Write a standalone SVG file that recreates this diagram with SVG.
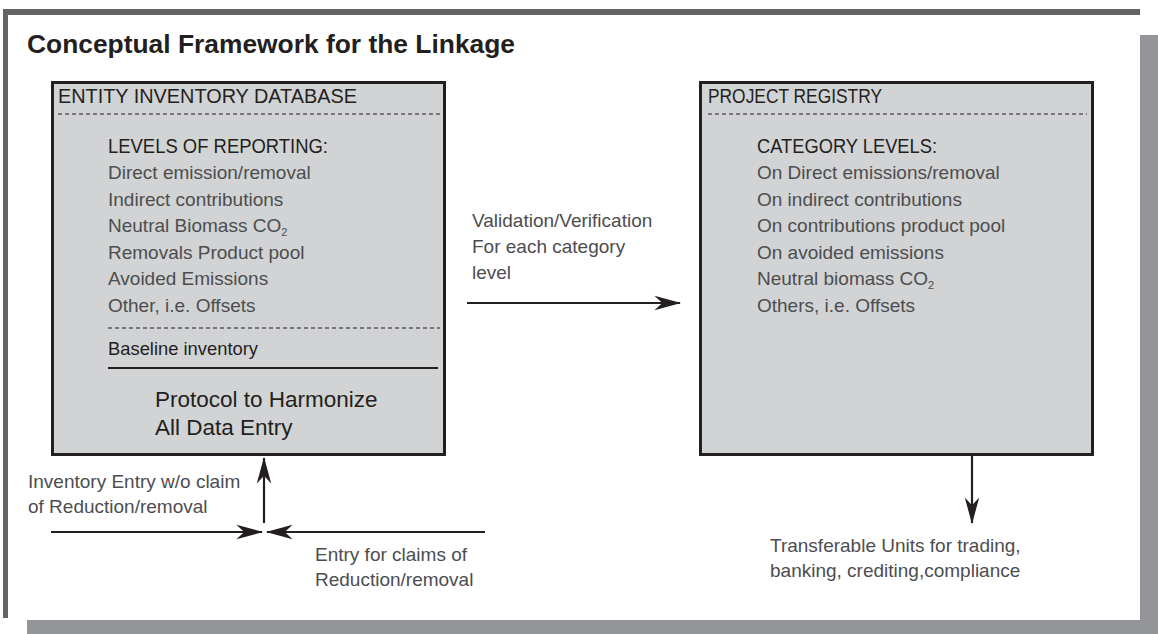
<svg xmlns="http://www.w3.org/2000/svg" width="1158" height="634" viewBox="0 0 1158 634">
<style>
text{font-family:"Liberation Sans",Arial,sans-serif}
.title{font-size:25px;font-weight:bold;fill:#231f20}
.hd{font-size:20px;fill:#231f20}
.sub{font-size:18.5px;fill:#231f20}
.it{font-size:19px;fill:#4d4d4f}
.big{font-size:22.5px;fill:#231f20}
.lbl{font-size:19px;fill:#4d4d4f}
.box{fill:#d1d3d4;stroke:#231f20;stroke-width:3}
.dash{stroke:#231f20;stroke-width:1.2;stroke-dasharray:4 3;fill:none}
.conn{stroke:#231f20;stroke-width:2.2;fill:none;marker-end:url(#ah)}
</style>
<defs>
<marker id="ah" markerUnits="userSpaceOnUse" markerWidth="30" markerHeight="20" viewBox="-25 -8 27 16" refX="0" refY="0" orient="auto">
<path d="M1,0 L-23,-6.5 L-16,0 L-23,6.5 Z" fill="#231f20"/>
</marker>
</defs>
<g id="frame">
<rect x="4" y="9" width="1136" height="6" fill="#636466"/>
<rect x="3" y="9" width="5" height="609" fill="#636466"/>
<rect x="1140" y="35" width="18" height="599" fill="#939598"/>
<rect x="27" y="620" width="1131" height="14" fill="#939598"/>
<text class="title" x="27" y="53" textLength="488" lengthAdjust="spacingAndGlyphs">Conceptual Framework for the Linkage</text>
</g>
<g id="entity-inventory-database">
<rect class="box" x="52.5" y="82.5" width="392" height="372"/>
<text class="hd" x="58" y="103" textLength="299" lengthAdjust="spacingAndGlyphs">ENTITY INVENTORY DATABASE</text>
<line class="dash" x1="58" y1="114" x2="440" y2="114"/>
<text class="hd" x="108" y="153" textLength="220" lengthAdjust="spacingAndGlyphs">LEVELS OF REPORTING:</text>
<text class="it" x="108" y="179">Direct emission/removal</text>
<text class="it" x="108" y="206">Indirect contributions</text>
<text class="it" x="108" y="232">Neutral Biomass CO<tspan font-size="11" dy="4">2</tspan></text>
<text class="it" x="108" y="259">Removals Product pool</text>
<text class="it" x="108" y="285">Avoided Emissions</text>
<text class="it" x="108" y="312">Other, i.e. Offsets</text>
<line class="dash" x1="108" y1="328" x2="440" y2="328"/>
<text class="sub" x="108" y="355" textLength="150" lengthAdjust="spacingAndGlyphs">Baseline inventory</text>
<line x1="108" y1="368" x2="438" y2="368" stroke="#231f20" stroke-width="2"/>
<text class="big" x="155" y="407">Protocol to Harmonize</text>
<text class="big" x="155" y="435">All Data Entry</text>
</g>
<g id="project-registry">
<rect class="box" x="700.5" y="82.5" width="392" height="372"/>
<text class="hd" x="708" y="103" textLength="174" lengthAdjust="spacingAndGlyphs">PROJECT REGISTRY</text>
<line class="dash" x1="708" y1="114" x2="1087" y2="114"/>
<text class="hd" x="757" y="153" textLength="180" lengthAdjust="spacingAndGlyphs">CATEGORY LEVELS:</text>
<text class="it" x="757" y="179">On Direct emissions/removal</text>
<text class="it" x="757" y="206">On indirect contributions</text>
<text class="it" x="757" y="232">On contributions product pool</text>
<text class="it" x="757" y="259">On avoided emissions</text>
<text class="it" x="757" y="285">Neutral biomass CO<tspan font-size="11" dy="4">2</tspan></text>
<text class="it" x="757" y="312">Others, i.e. Offsets</text>
</g>
<g id="connectors">
<line class="conn" x1="467" y1="303" x2="680" y2="303"/>
<line class="conn" x1="264" y1="523" x2="264" y2="458"/>
<line class="conn" x1="51" y1="532" x2="262" y2="532"/>
<line class="conn" x1="485" y1="532" x2="267" y2="532"/>
<line class="conn" x1="972" y1="456" x2="972" y2="523"/>
</g>
<g id="labels">
<text class="lbl" x="472" y="227">Validation/Verification</text>
<text class="lbl" x="472" y="253">For each category</text>
<text class="lbl" x="472" y="279">level</text>
<text class="lbl" x="28" y="488">Inventory Entry w/o claim</text>
<text class="lbl" x="28" y="513">of Reduction/removal</text>
<text class="lbl" x="315" y="561">Entry for claims of</text>
<text class="lbl" x="315" y="586">Reduction/removal</text>
<text class="lbl" x="770" y="552">Transferable Units for trading,</text>
<text class="lbl" x="770" y="577">banking, crediting,compliance</text>
</g>
</svg>
